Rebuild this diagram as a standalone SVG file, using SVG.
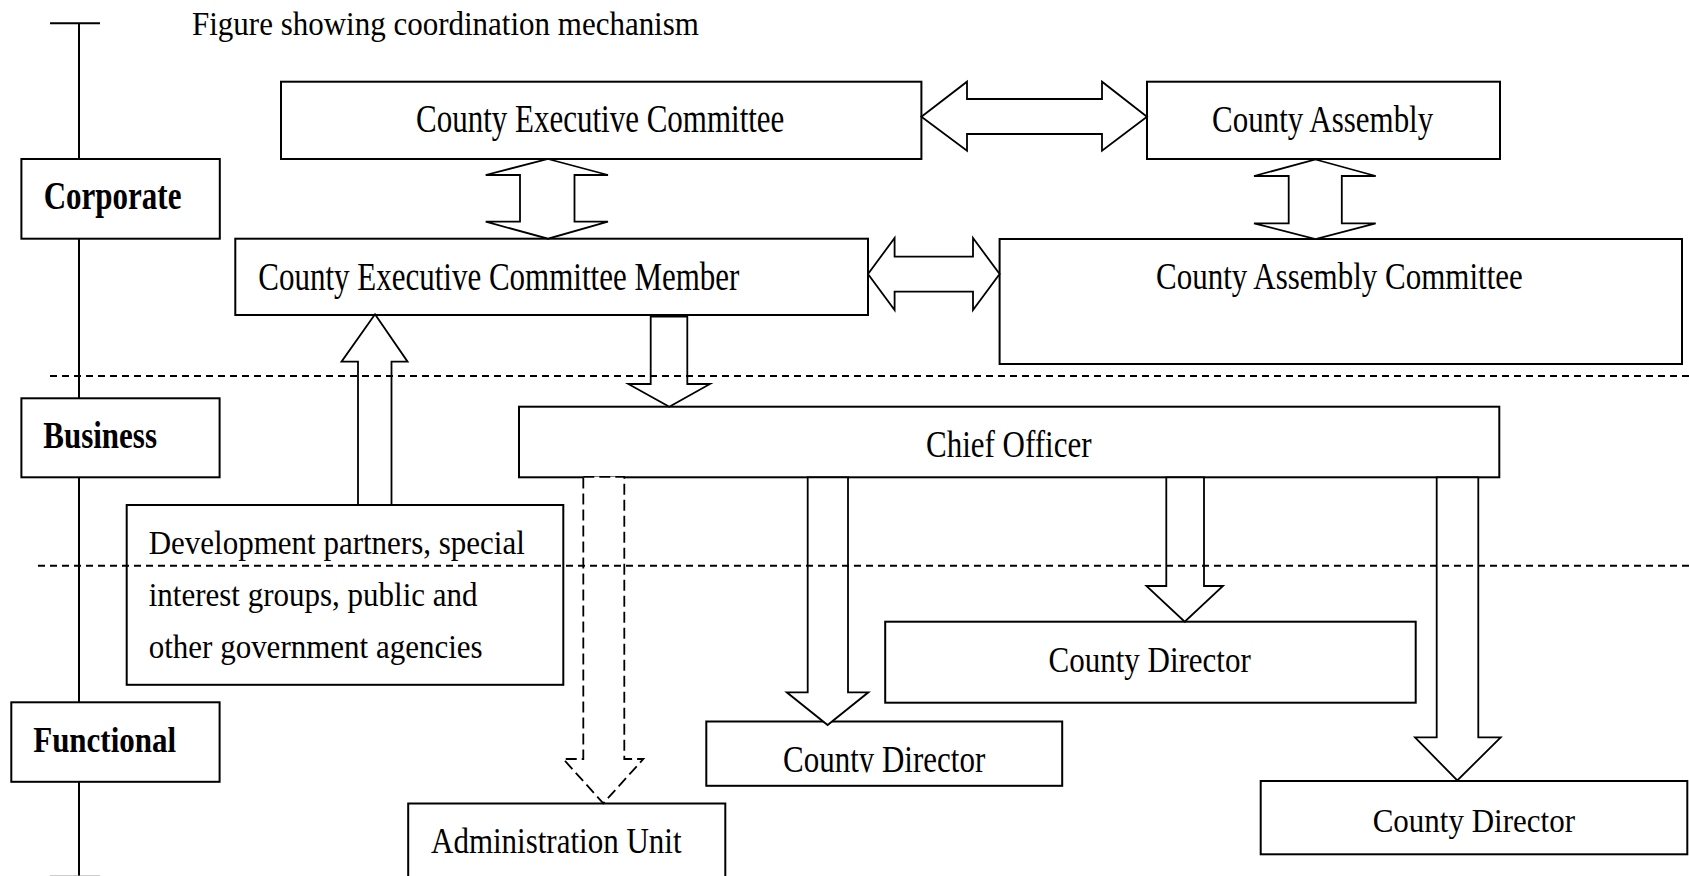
<svg xmlns="http://www.w3.org/2000/svg" width="1689" height="876" viewBox="0 0 1689 876">
<style>
.box{fill:#fff;stroke:#000;stroke-width:2}
.arr{fill:#fff;stroke:#000;stroke-width:1.8;stroke-linejoin:miter}
.darr{fill:#fff;stroke:#000;stroke-width:1.8;stroke-dasharray:11 5}
.sep{fill:none;stroke:#000;stroke-width:2;stroke-dasharray:7 5}
.axis{fill:none;stroke:#000;stroke-width:2}
.t{font-family:"Liberation Serif","Times New Roman",serif;font-size:31px;fill:#000}
.b{font-weight:bold}
</style>
<defs>
<clipPath id="cd1clip"><rect x="700" y="715" width="370" height="57.5"/></clipPath>
</defs>
<rect width="1689" height="876" fill="#fff"/>
<g id="axis">
<line class="axis" x1="50" y1="23.3" x2="100" y2="23.3"/>
<line class="axis" x1="79" y1="23.3" x2="79" y2="876"/>
<line x1="50" y1="876.5" x2="100" y2="876.5" stroke="#999" stroke-width="2"/>
</g>
<g id="title"><text class="t" transform="translate(192,35) scale(1,1.08)">Figure showing coordination mechanism</text></g>
<g id="corporate"><rect class="box" x="21.4" y="159" width="198.4" height="79.7"/><text class="t b" transform="translate(43.7,209) scale(1,1.28)">Corporate</text></g>
<g id="business"><rect class="box" x="21.4" y="398.3" width="198.2" height="79"/><text class="t b" transform="translate(43.3,448.3) scale(1,1.22)">Business</text></g>
<g id="functional"><rect class="box" x="11.3" y="702.3" width="208.3" height="79.5"/><text class="t b" transform="translate(33.2,751.7) scale(1,1.16)">Functional</text></g>
<g id="cec"><rect class="box" x="281" y="81.7" width="640.4" height="77.3"/><text class="t" transform="translate(416,132.3) scale(1,1.27)">County Executive Committee</text></g>
<g id="ca"><rect class="box" x="1147" y="81.7" width="353" height="77.3"/><text class="t" transform="translate(1212,131.7) scale(1,1.22)">County Assembly</text></g>
<g id="cecm"><rect class="box" x="235.3" y="238.7" width="632.7" height="76.3"/><text class="t" transform="translate(258.3,290) scale(1,1.3)">County Executive Committee Member</text></g>
<g id="cac"><rect class="box" x="999.6" y="239" width="682.4" height="125"/><text class="t" transform="translate(1156,289) scale(1,1.2)">County Assembly Committee</text></g>
<g id="chief"><rect class="box" x="519" y="406.7" width="980.3" height="70.6"/><text class="t" transform="translate(926,456.7) scale(1,1.22)">Chief Officer</text></g>
<g id="partners"><rect class="box" x="126.7" y="505" width="436.6" height="179.8"/>
<text class="t" transform="translate(148.7,554.3) scale(1,1.06)">Development partners, special</text>
<text class="t" transform="translate(148.7,606) scale(1,1.06)">interest groups, public and</text>
<text class="t" transform="translate(148.7,657.7) scale(1,1.06)">other government agencies</text></g>
<g id="director2"><rect class="box" x="885.2" y="621.7" width="530.5" height="81"/><text class="t" transform="translate(1048.5,671.7) scale(1,1.16)">County Director</text></g>
<g id="director1"><rect class="box" x="706.3" y="721.5" width="355.9" height="64.3"/><g clip-path="url(#cd1clip)"><text class="t" transform="translate(783,772) scale(1,1.22)">County Director</text></g></g>
<g id="director3"><rect class="box" x="1260.7" y="781" width="426.6" height="73.3"/><text class="t" transform="translate(1372.7,831.7) scale(1,1.12)">County Director</text></g>
<g id="admin"><rect class="box" x="408.2" y="803.5" width="317.1" height="100"/><text class="t" transform="translate(431,853.3) scale(1,1.16)">Administration Unit</text></g>
<g id="connectors">
<polygon class="arr" points="921.4,116.7 967,81.7 967,99 1102,99 1102,81.7 1147,116.7 1102,150.7 1102,134 967,134 967,150.7"/>
<polygon class="arr" points="548,159 608,175 574.5,175 574.5,221.7 608,221.7 548,238.7 485.7,221.7 520,221.7 520,175 485.7,175"/>
<polygon class="arr" points="1315.5,159.5 1375.7,176 1341.8,176 1341.8,223.3 1375.7,223.3 1315.5,239 1254,223.3 1288.7,223.3 1288.7,176 1254,176"/>
<polygon class="arr" points="868,274 894.6,238 894.6,256.7 973,256.7 973,238 999.6,274 973,310 973,291.7 894.6,291.7 894.6,310"/>
<polygon class="arr" points="650.7,316.5 687.3,316.5 687.3,384 710,384 669.3,406.7 628.3,384 650.7,384"/>
<polygon class="arr" points="375,314.3 407.6,361.7 391.5,361.7 391.5,505 358,505 358,361.7 341.5,361.7"/>
<polygon class="darr" points="583.3,476.8 624.3,476.8 624.3,759 643.3,759 603.3,803.3 563.3,759 583.3,759"/>
<polygon class="arr" points="807.7,477.3 848,477.3 848,692.3 868.4,692.3 827.6,725 786.7,692.3 807.7,692.3"/>
<polygon class="arr" points="1166.3,477.3 1204,477.3 1204,586 1223,586 1184.7,621.7 1146.4,586 1166.3,586"/>
<polygon class="arr" points="1436.7,477.3 1478.3,477.3 1478.3,737.3 1500.7,737.3 1457.3,780.5 1415,737.3 1436.7,737.3"/>
</g>
<g id="levels">
<line class="sep" x1="50" y1="376" x2="1689" y2="376"/>
<line class="sep" x1="38" y1="565.7" x2="1689" y2="565.7"/>
</g>
</svg>
